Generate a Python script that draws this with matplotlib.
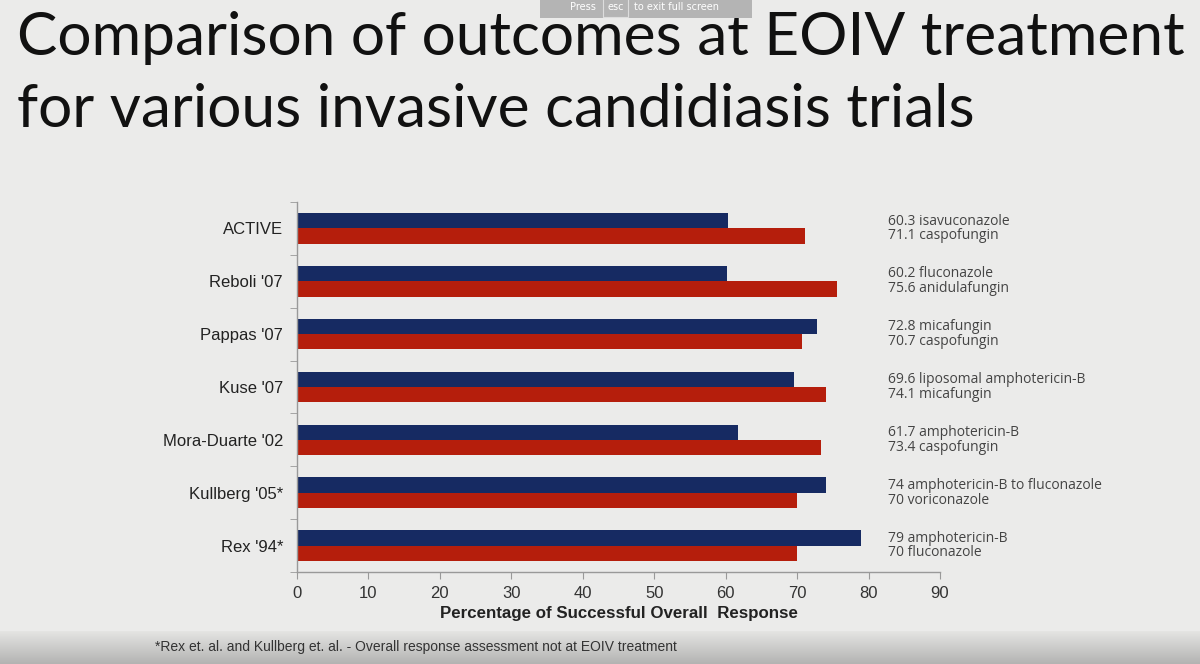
import matplotlib
matplotlib.use("Agg")
import matplotlib.pyplot as plt
import numpy as np
from matplotlib.colors import LinearSegmentedColormap

studies = ["ACTIVE", "Reboli '07", "Pappas '07", "Kuse '07", "Mora-Duarte '02", "Kullberg '05*", "Rex '94*"]
first_vals = [60.3, 60.2, 72.8, 69.6, 61.7, 74, 79]
second_vals = [71.1, 75.6, 70.7, 74.1, 73.4, 70, 70]
first_drugs = ["isavuconazole", "fluconazole", "micafungin", "liposomal amphotericin-B",
               "amphotericin-B", "amphotericin-B to fluconazole", "amphotericin-B"]
second_drugs = ["caspofungin", "anidulafungin", "caspofungin", "micafungin",
                "caspofungin", "voriconazole", "fluconazole"]
first_labels = ["60.3", "60.2", "72.8", "69.6", "61.7", "74", "79"]
second_labels = ["71.1", "75.6", "70.7", "74.1", "73.4", "70", "70"]
xticks = [0, 10, 20, 30, 40, 50, 60, 70, 80, 90]

BG = "#ebebea"
BLUE = "#162a62"
RED = "#b51e0c"

fig = plt.figure(figsize=(12, 6.64), dpi=100, facecolor=BG)

# footer gradient band
gax = fig.add_axes([0, 0, 1, 0.05])
grad = np.linspace(0, 1, 100).reshape(-1, 1)
cmap = LinearSegmentedColormap.from_list("g", ["#e6e6e4", "#b3b3b2"])
gax.imshow(grad, aspect="auto", cmap=cmap, extent=[0, 1, 0, 1], origin="upper")
gax.set_axis_off()

ax = fig.add_axes([0.2475, 0.1386, 0.5358, 0.5572])
ax.set_facecolor(BG)
n = len(studies)
y = np.arange(n)
h = 0.29
ax.barh(y - h / 2, first_vals, height=h, color=BLUE, edgecolor="none")
ax.barh(y + h / 2, second_vals, height=h, color=RED, edgecolor="none")
ax.set_ylim(n - 0.5, -0.5)
ax.set_xlim(0, 90)
ax.set_xticks(xticks)
ax.set_xticklabels([str(t) for t in xticks], fontsize=12, color="#333333",
                   family="Liberation Sans")
ax.set_yticks(y)
ax.set_yticklabels(studies, fontsize=12, color="#222222", family="Liberation Sans")
ax.tick_params(axis="y", length=0, pad=10)
ax.set_yticks(np.arange(n + 1) - 0.5, minor=True)
ax.tick_params(axis="y", which="minor", length=5, color="#999999", direction="out")
ax.tick_params(axis="x", length=5, color="#999999", pad=5)
for s in ["top", "right"]:
    ax.spines[s].set_visible(False)
for s in ["left", "bottom"]:
    ax.spines[s].set_color("#999999")
    ax.spines[s].set_linewidth(1.0)
ax.set_xlabel("Percentage of Successful Overall  Response", fontsize=12.2,
              fontweight="bold", color="#222222", family="Liberation Sans", labelpad=4)

for i in range(n):
    ax.text(82.7, y[i] - 0.14, f"{first_labels[i]} {first_drugs[i]}", fontsize=10,
            color="#444444", family="Open Sans", va="center", ha="left")
    ax.text(82.7, y[i] + 0.14, f"{second_labels[i]} {second_drugs[i]}", fontsize=10,
            color="#444444", family="Open Sans", va="center", ha="left")

fig.text(0.014, 0.917, "Comparison of outcomes at EOIV treatment", fontsize=43.5,
         family="Lato", color="#111111", va="baseline", ha="left")
fig.text(0.014, 0.809, "for various invasive candidiasis trials", fontsize=43.5,
         family="Lato", color="#111111", va="baseline", ha="left")

fig.text(0.129, 0.025, "*Rex et. al. and Kullberg et. al. - Overall response assessment not at EOIV treatment",
         fontsize=10, family="Liberation Sans", color="#333333", va="center", ha="left")

# full-screen notice overlay
fig.patches.append(plt.Rectangle((0.45, 0.973), 0.177, 0.03, transform=fig.transFigure,
                                 facecolor="#b4b4b4", edgecolor="none", zorder=5))
fig.patches.append(plt.Rectangle((0.5025, 0.975), 0.021, 0.03, transform=fig.transFigure,
                                 facecolor="none", edgecolor="#dddddd", lw=0.8, zorder=6))
fig.text(0.475, 0.99, "Press", fontsize=7, color="white", va="center", zorder=7)
fig.text(0.506, 0.99, "esc", fontsize=7, color="white", va="center", zorder=7)
fig.text(0.528, 0.99, "to exit full screen", fontsize=7, color="white", va="center", zorder=7)

fig.savefig("out.png", dpi=100, facecolor=BG)
